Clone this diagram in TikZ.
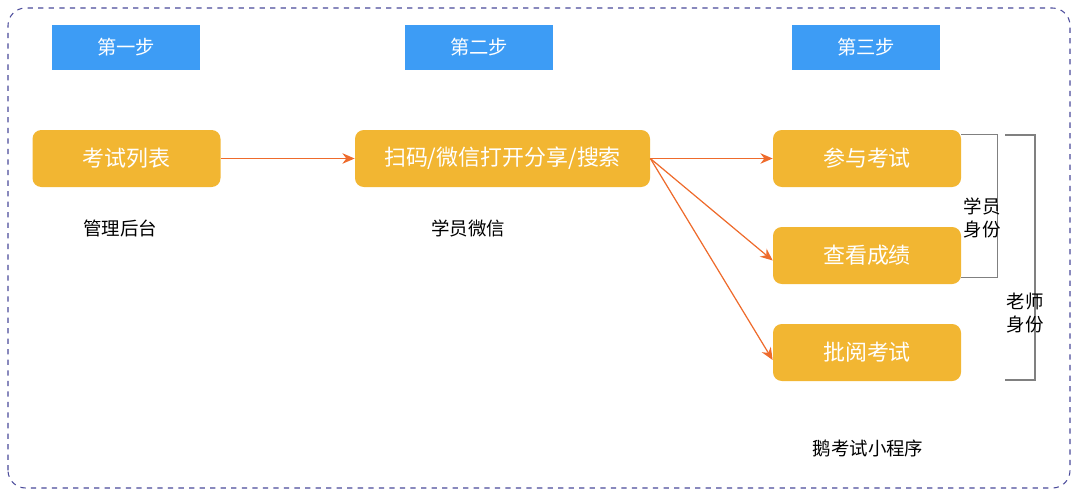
\documentclass[tikz,border=0pt]{standalone}
\usepackage{fontspec}
\setmainfont{Noto Sans CJK SC}
\usetikzlibrary{arrows.meta}
\definecolor{stepblue}{HTML}{3D9CF5}
\definecolor{boxyellow}{HTML}{F2B632}
\definecolor{arroworange}{HTML}{EE6B2C}
\definecolor{framepurple}{HTML}{4A4A9A}
\tikzset{
  stepbox/.style={fill=stepblue, text=white, minimum width=2.96cm, minimum height=0.9cm, inner sep=0pt, font=\fontsize{11}{13}\selectfont},
  taskbox/.style={fill=boxyellow, text=white, rounded corners=5pt, minimum width=3.76cm, minimum height=1.14cm, inner sep=0pt, font=\fontsize{12.5}{15}\selectfont},
  plainlabel/.style={font=\fontsize{10.5}{13}\selectfont},
  flow/.style={arroworange, line width=0.7pt, -{Stealth[length=7pt,width=6pt]}},
  brace/.style={gray, line width=0.7pt}
}
\begin{document}
\begin{tikzpicture}
\useasboundingbox (0,0) rectangle (21.6,9.8);
% Outer dashed frame
\draw [framepurple, dashed, line width=0.6pt, rounded corners=10pt] (0.16,0.04) rectangle (21.4,9.64);

% Step headers
\node [stepbox] (step1) at (2.52,8.85) {第一步};
\node [stepbox] (step2) at (9.58,8.85) {第二步};
\node [stepbox] (step3) at (17.32,8.85) {第三步};

% Task boxes
\node [taskbox] (list) at (2.53,6.63) {考试列表};
\node [taskbox, minimum width=5.9cm] (scan) at (10.05,6.63) {扫码/微信打开分享/搜索};
\node [taskbox] (join) at (17.34,6.63) {参与考试};
\node [taskbox] (score) at (17.34,4.69) {查看成绩};
\node [taskbox] (grade) at (17.34,2.75) {批阅考试};

% Captions
\node [plainlabel] (admin) at (2.4,5.24) {管理后台};
\node [plainlabel] (wechat) at (9.36,5.24) {学员微信};
\node [plainlabel] (mini) at (17.36,0.84) {鹅考试小程序};

% Arrows
\draw [flow] (list.east) -- (scan.west);
\draw [flow] (scan.east) -- (join.west);
\draw [flow] (scan.east) -- ([yshift=-0.1cm]score.west);
\draw [flow] (scan.east) -- ([yshift=-0.15cm]grade.west);

% Brackets
\draw [brace] (join.north east) ++(0,-0.1) coordinate (b1) -- ++(0.72,0) |- ([yshift=0.14cm]score.south east) coordinate (b2);
\node [plainlabel, align=center] (student) at (19.64,5.44) {学员\\身份};
\draw [brace] (20.1,7.1) -- (20.7,7.1) -- (20.7,2.2) -- (20.1,2.2);
\node [plainlabel, align=center] (teacher) at (20.5,3.54) {老师\\身份};
\end{tikzpicture}
\end{document}
